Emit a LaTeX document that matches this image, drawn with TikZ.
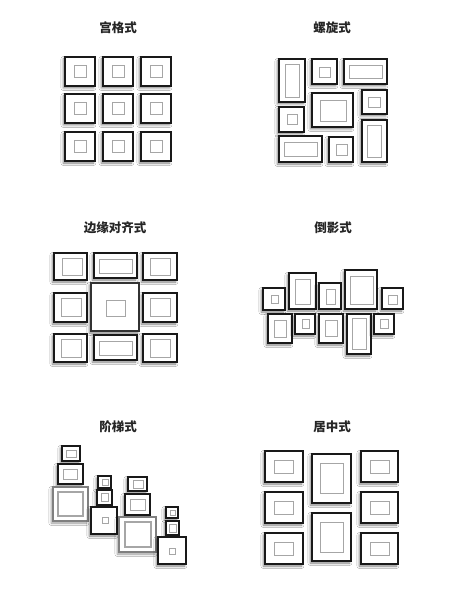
\documentclass[tikz,border=0pt]{standalone}
\usepackage{fontspec}
\newfontfamily\cjk{Noto Sans CJK SC}
\usetikzlibrary{shadows.blur}
\tikzset{
  frm/.style={draw=black!90, line width=2.6pt, fill=white,
    blur shadow={shadow xshift=-1.6pt, shadow yshift=-2pt, shadow blur steps=6, shadow blur radius=2.5pt, shadow opacity=50}},
  frmg/.style={draw=black!50, line width=1.3pt, fill=white,
    blur shadow={shadow xshift=-1.6pt, shadow yshift=-2pt, shadow blur steps=6, shadow blur radius=2.5pt, shadow opacity=40}},
  mat/.style={draw=black!35, line width=0.9pt},
  matg/.style={draw=black!35, line width=1.3pt},
  ttl/.style={font=\cjk\bfseries\fontsize{12.5}{13}\selectfont, text=black!85}
}
\newcommand\fr[9][frm]{\path[#1] (#2,#3) rectangle (#4,#5); \draw[mat] (#6,#7) rectangle (#8,#9);}
\begin{document}
\begin{tikzpicture}[x=1pt,y=-1pt]
\useasboundingbox[fill=white] (0,0) rectangle (460,601);
% titles
\node[ttl] (t1) at (118,28) {宫格式};
\node[ttl] (t2) at (332,28) {螺旋式};
\node[ttl] (t3) at (115,228) {边缘对齐式};
\node[ttl] (t4) at (333,228) {倒影式};
\node[ttl] (t5) at (118,427) {阶梯式};
\node[ttl] (t6) at (332,427) {居中式};
% panel 1: grid
\foreach \xx in {65,103,141}{
  \foreach \yy in {57,94,132}{
    \fr{\xx}{\yy}{\xx+30}{\yy+29}{\xx+9}{\yy+8.5}{\xx+21}{\yy+20.5}
  }
}
% panel 2: spiral
\fr{279}{59}{305}{102}{285}{64}{299}{97}
\fr{312}{59}{337}{84}{319}{67}{330}{77}
\fr{344}{59}{387}{84}{349}{65}{382}{78}
\fr{312}{93}{353}{127}{320}{100}{346}{121}
\fr{362}{90}{387}{114}{368}{97}{380}{107}
\fr{279}{107}{304}{132}{287}{114}{297}{124}
\fr{362}{120}{387}{162}{367}{125}{381}{157}
\fr{279}{136}{322}{162}{284}{142}{317}{156}
\fr{329}{137}{353}{162}{336}{144}{347}{155}
% panel 3: edge aligned
\fr{54}{253}{87}{280}{62}{258}{82}{275}
\fr{94}{253}{137}{278}{99}{259}{132}{273}
\fr{143}{253}{177}{280}{150}{258}{170}{275}
\fr{54}{293}{87}{322}{61}{298}{81}{316}
\fr[frm, line width=1.8pt, draw=black!80]{91}{283}{139}{331}{106}{300}{125}{316}
\fr{143}{293}{177}{322}{150}{298}{170}{316}
\fr{54}{334}{87}{362}{61}{339}{81}{357}
\fr{94}{335}{137}{360}{99}{341}{132}{355}
\fr{143}{334}{177}{362}{150}{339}{170}{357}
% panel 4: reflection
\fr{263}{288}{285}{310}{271}{295}{278}{303}
\fr{289}{273}{316}{309}{295}{279}{310}{304}
\fr{319}{283}{341}{309}{326}{289}{335}{304}
\fr{345}{270}{377}{309}{350}{276}{373}{304}
\fr{382}{288}{403}{309}{388}{295}{397}{304}
\fr{268}{314}{292}{343}{274}{320}{286}{337}
\fr{295}{314}{315}{334}{302}{319}{309}{328}
\fr{319}{314}{343}{343}{325}{320}{337}{336}
\fr{347}{314}{371}{354}{352}{318}{366}{349}
\fr{374}{314}{394}{334}{380}{319}{388}{328}
% panel 5: stairs
\fr{62}{446}{80}{461}{66}{450}{76}{457}
\fr{58}{464}{83}{484}{63}{469}{77}{479}
\path[frmg] (53,487) rectangle (88,521); \draw[matg] (58,492) rectangle (83,516);
\fr{98}{476}{111}{488}{102}{479}{108}{485}
\fr{97}{490}{112}{505}{101}{493}{108}{501}
\fr{91}{507}{117}{534}{102}{517}{108}{523}
\fr{128}{477}{147}{491}{133}{480}{143}{488}
\fr{125}{494}{150}{515}{130}{499}{145}{510}
\path[frmg] (119,517) rectangle (156,552); \draw[matg] (125,522) rectangle (151,547);
\fr{166}{507}{178}{518}{170}{510}{175}{515}
\fr{166}{521}{179}{535}{169}{524}{176}{532}
\fr{158}{537}{186}{564}{169}{548}{175}{554}
% panel 6: centered
\foreach \yy/\iy in {451/460,492/501,533/542}{
  \fr{265}{\yy}{303}{\yy+31}{274}{\iy}{293}{\iy+13}
  \fr{361}{\yy}{398}{\yy+31}{370}{\iy}{389}{\iy+13}
}
\fr{312}{454}{351}{503}{320}{463}{343}{493}
\fr{312}{513}{351}{561}{320}{522}{343}{552}
\end{tikzpicture}
\end{document}
